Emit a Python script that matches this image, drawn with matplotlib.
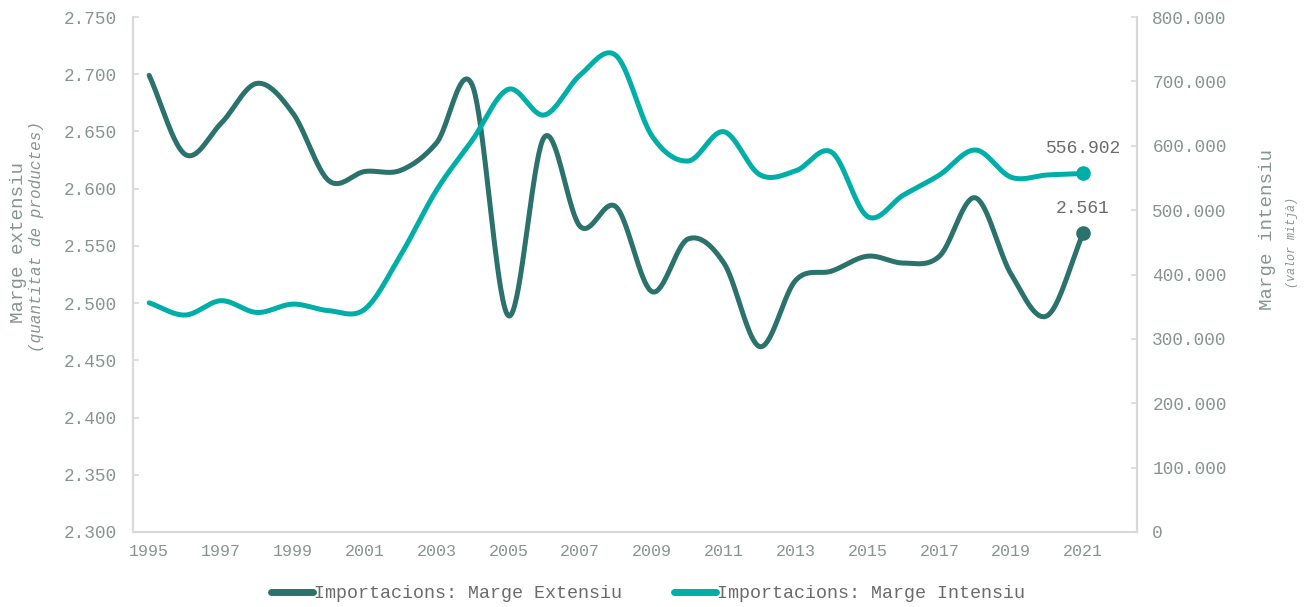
import numpy as np
import matplotlib
matplotlib.use("Agg")
import matplotlib.pyplot as plt
from matplotlib.ticker import FuncFormatter, FixedLocator

plt.rcParams['font.family'] = ['Liberation Mono', 'DejaVu Sans Mono']

# Dades: importacions, marge extensiu i intensiu
anys = list(range(1995, 2022))
marge_extensiu = [2699, 2630, 2657, 2692, 2666, 2607, 2615, 2616, 2640, 2690,
                  2489, 2645, 2567, 2584, 2510, 2556, 2535, 2462, 2520, 2528,
                  2541, 2535, 2541, 2592, 2525, 2489, 2561]
marge_intensiu = [356000, 337000, 359300, 341000, 354000, 343800, 346000, 430000,
                  531000, 609000, 687700, 647800, 710000, 740000, 615000, 576300,
                  621800, 555000, 561000, 590000, 490000, 523500, 554600, 593400,
                  551000, 554600, 556902]
etiquetes_x = list(range(1995, 2022, 2))

COLOR_EXT = '#2b716c'
COLOR_INT = '#00aea8'
COLOR_TXT = '#889492'
COLOR_EIX = '#d9d9d9'


def suavitza(xs, ys, n=40):
    """Corba cúbica d'Hermite amb tangents de Catmull-Rom."""
    xs = np.asarray(xs, float)
    ys = np.asarray(ys, float)
    m = np.empty_like(ys)
    m[1:-1] = (ys[2:] - ys[:-2]) / (xs[2:] - xs[:-2])
    m[0] = (ys[1] - ys[0]) / (xs[1] - xs[0])
    m[-1] = (ys[-1] - ys[-2]) / (xs[-1] - xs[-2])
    px, py = [], []
    t = np.linspace(0, 1, n)
    h00 = 2 * t**3 - 3 * t**2 + 1
    h10 = t**3 - 2 * t**2 + t
    h01 = -2 * t**3 + 3 * t**2
    h11 = t**3 - t**2
    for i in range(len(xs) - 1):
        h = xs[i + 1] - xs[i]
        px.append(xs[i] + t * h)
        py.append(h00 * ys[i] + h10 * h * m[i] + h01 * ys[i + 1] + h11 * h * m[i + 1])
    return np.concatenate(px), np.concatenate(py)


def punts_milers(v, pos):
    return f"{int(round(v)):,}".replace(",", ".")


fig = plt.figure(figsize=(13.11, 6.07), dpi=100)
ax1 = fig.add_axes([133 / 1311, 1 - 532 / 607, (1137 - 133) / 1311, (532 - 17) / 607])
ax2 = ax1.twinx()

sx, sy = suavitza(anys, marge_extensiu)
ax1.plot(sx, sy, color=COLOR_EXT, lw=3.6, solid_capstyle='round',
         label='Importacions: Marge Extensiu')
ax1.plot(anys[-1], marge_extensiu[-1], 'o', color=COLOR_EXT, ms=9.5)
ax1.annotate(punts_milers(marge_extensiu[-1], None), (anys[-1], marge_extensiu[-1]),
             xytext=(0, 18), textcoords='offset points', ha='center', va='center',
             fontsize=13, color='#6b6b6b')

ix, iy = suavitza(anys, marge_intensiu)
ax2.plot(ix, iy, color=COLOR_INT, lw=3.6, solid_capstyle='round',
         label='Importacions: Marge Intensiu')
ax2.plot(anys[-1], marge_intensiu[-1], 'o', color=COLOR_INT, ms=9.5)
ax2.annotate(punts_milers(marge_intensiu[-1], None), (anys[-1], marge_intensiu[-1]),
             xytext=(0, 18), textcoords='offset points', ha='center', va='center',
             fontsize=13, color='#6b6b6b')

ax1.set_xlim(1994.55, 2022.5)
ax1.set_ylim(2300, 2750)
ax2.set_ylim(0, 800000)
ax1.xaxis.set_major_locator(FixedLocator(etiquetes_x))
ax1.set_yticks(np.arange(2300, 2751, 50))
ax2.set_yticks(np.arange(0, 800001, 100000))
ax1.yaxis.set_major_formatter(FuncFormatter(punts_milers))
ax2.yaxis.set_major_formatter(FuncFormatter(punts_milers))

for ax in (ax1, ax2):
    ax.spines['top'].set_visible(False)
    for s in ('left', 'right', 'bottom'):
        ax.spines[s].set_color(COLOR_EIX)
        ax.spines[s].set_linewidth(1.5)

ax1.tick_params(axis='x', length=0, pad=9, labelsize=12, labelcolor=COLOR_TXT)
ax1.tick_params(axis='y', direction='in', length=4.5, width=1.2, color=COLOR_EIX,
                pad=11.5, labelsize=12.8, labelcolor=COLOR_TXT)
ax2.tick_params(axis='y', direction='in', length=4, width=1.2, color=COLOR_EIX,
                pad=11, labelsize=12.8, labelcolor=COLOR_TXT)

# Títols dels eixos
fig.text(18.5 / 1311, 1 - 242 / 607, 'Marge extensiu', rotation=90, ha='center', va='center',
         fontsize=13.8, color=COLOR_TXT)
fig.text(37 / 1311, 1 - 237 / 607, '(quantitat de productes)', rotation=90, ha='center',
         va='center', fontsize=11.5, style='italic', color=COLOR_TXT)
fig.text(1268 / 1311, 1 - 229 / 607, 'Marge intensiu', rotation=90, ha='center', va='center',
         fontsize=13.8, color=COLOR_TXT)
fig.text(1292 / 1311, 1 - 242 / 607, '(valor mitjà)', rotation=90, ha='center',
         va='center', fontsize=8.5, style='italic', color=COLOR_TXT)

h1, l1 = ax1.get_legend_handles_labels()
h2, l2 = ax2.get_legend_handles_labels()
leg = fig.legend(h1 + h2, l1 + l2, loc='center', bbox_to_anchor=(648 / 1311, 1 - 594 / 607),
                 ncol=2, frameon=False, fontsize=13.2, handlelength=2.3,
                 handletextpad=0.05, columnspacing=2.8, labelcolor='#6b6b6b')
for line in leg.get_lines():
    line.set_linewidth(5)
    line.set_solid_capstyle('round')

fig.savefig('out.png', dpi=100)
